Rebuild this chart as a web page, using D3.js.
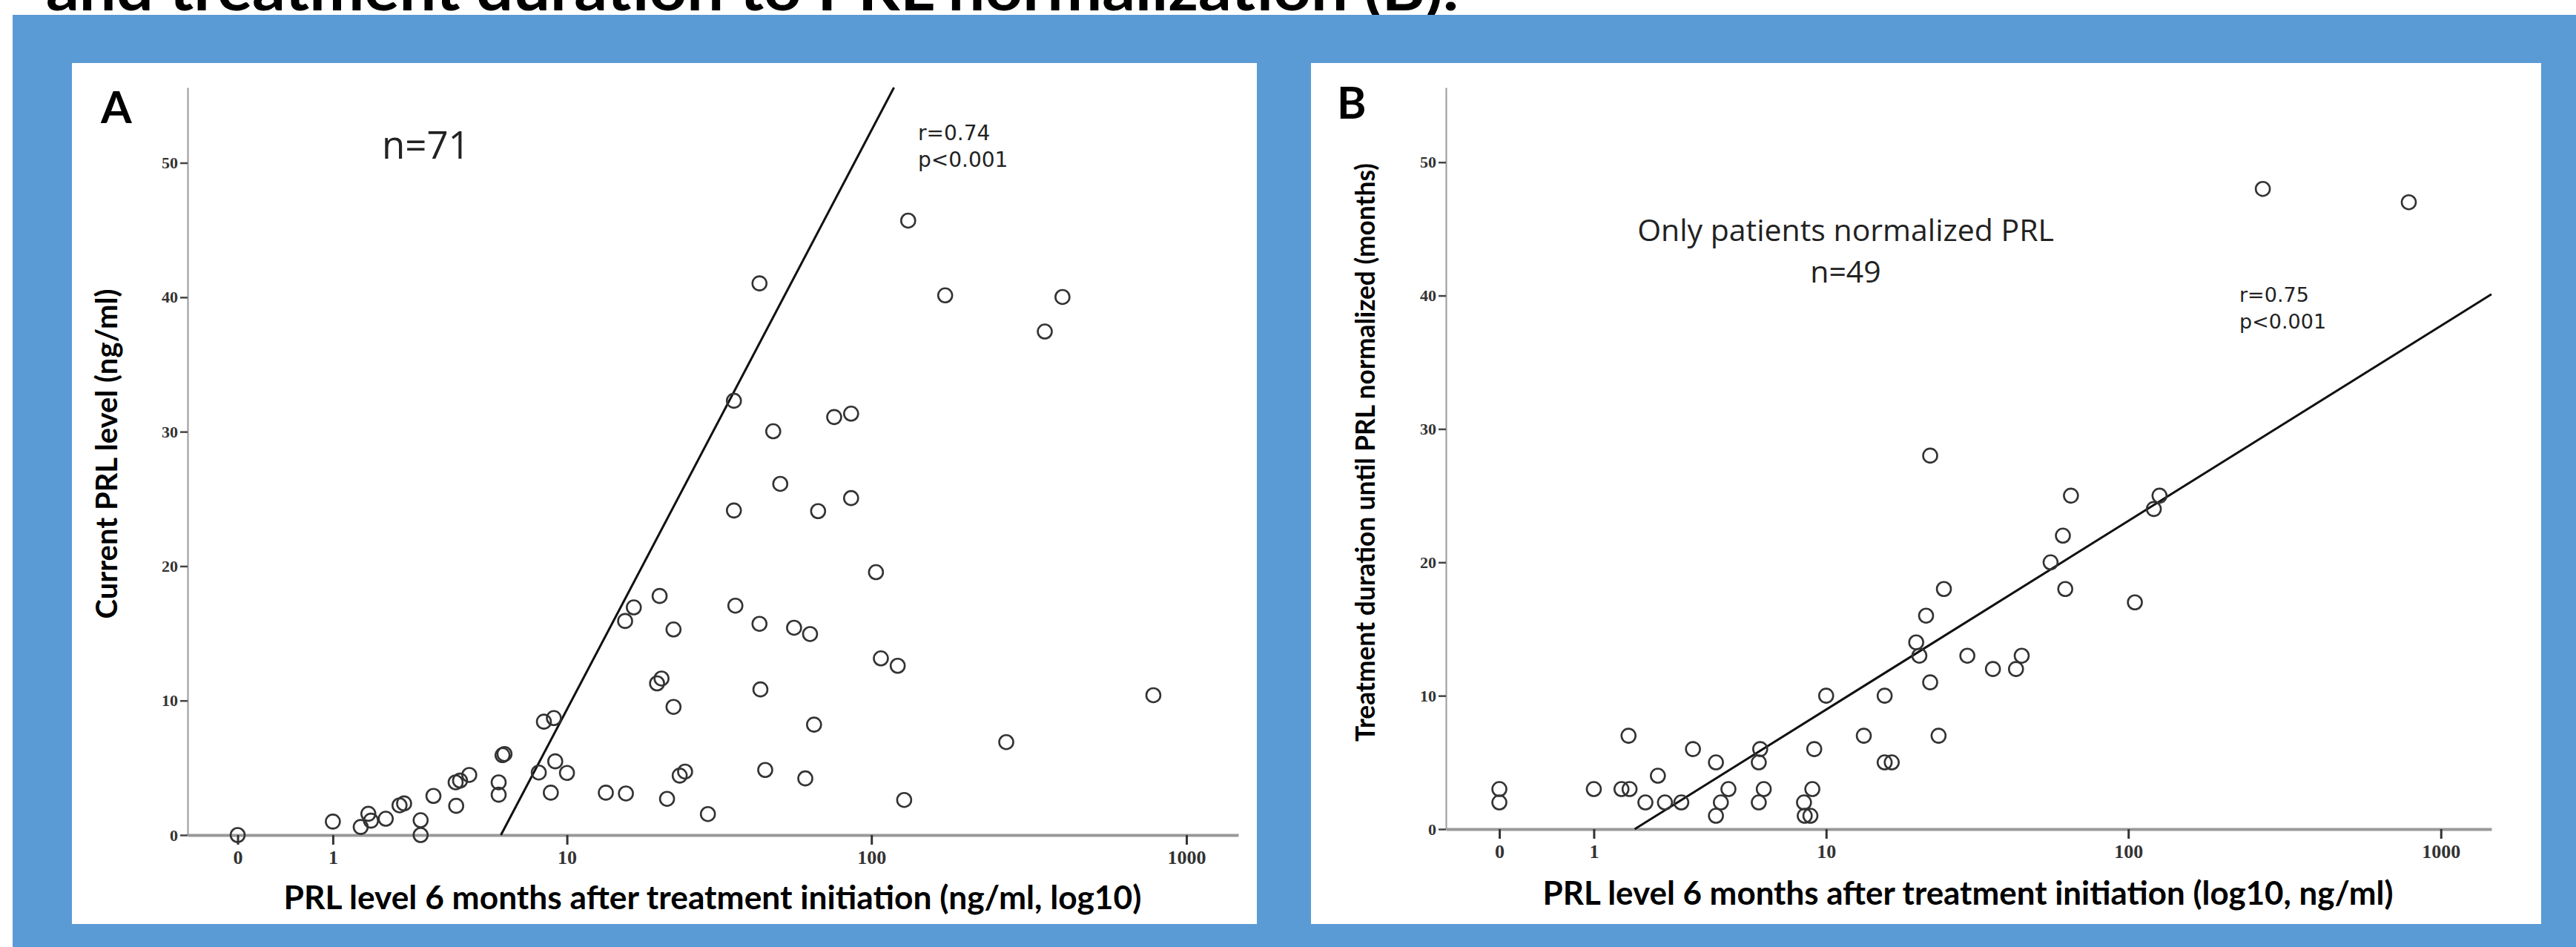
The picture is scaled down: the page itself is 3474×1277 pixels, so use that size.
<!DOCTYPE html>
<html>
<head>
<meta charset="utf-8">
<script src="https://cdn.jsdelivr.net/npm/d3@7"></script>
<style>
  body { margin: 0; background: #fff; }
  svg { display: block; }
</style>
</head>
<body>
<svg id="chart"></svg>
<script>
// ---- data ----
// panel A: PRL 6 months after start (ng/ml) vs current PRL (ng/ml)
const prl6A = [0, 1, 1.45, 1.59, 1.64, 1.94, 2.25, 2.36, 2.79, 2.79, 3.16, 3.91, 3.89, 4.05, 4.4,
  5.69, 5.69, 5.88, 5.98, 7.96, 8.3, 9.0, 9.1, 8.78, 10, 13.6, 15.9, 20.2, 20.9, 22.9, 21.8,
  15.8, 16.9, 20.6, 22.9, 24.0, 25.0, 29.7, 36.1, 36.1, 36.5, 43.7, 43.7, 44, 45.6, 48.4, 51,
  56.5, 61.4, 63.6, 65.5, 67.5, 76, 86.1, 86.1, 103.4, 107.2, 121.3, 127.2, 131, 171.8, 268.6,
  356, 405, 786];
const currentA = [0, 1.0, 0.6, 1.58, 1.07, 1.21, 2.21, 2.35, 1.1, 0, 2.91, 2.17, 3.92, 4.05, 4.47,
  3.92, 3.0, 5.94, 6.03, 4.65, 8.43, 8.7, 5.48, 3.15, 4.62, 3.15, 3.09, 11.28, 11.64, 9.53, 2.69,
  15.92, 16.93, 17.78, 15.29, 4.42, 4.72, 1.56, 32.3, 24.14, 17.06, 41.03, 15.71, 10.83, 4.84,
  30.03, 26.12, 15.42, 4.21, 14.95, 8.21, 24.09, 31.09, 31.34, 25.06, 19.55, 13.14, 12.59, 2.61,
  45.7, 40.14, 6.91, 37.45, 40.02, 10.4];
const fitA = [{ x: 5.8, y: 0 }, { x: 118, y: 55.6 }];

// panel B: PRL 6 months after start vs months until PRL normalized
const prl6B = [0, 0, 1, 1.58, 1.45, 1.6, 1.92, 2.2, 2.37, 2.8, 3.14, 3.9, 4.08, 4.37, 3.9,
  5.78, 5.71, 5.96, 5.71, 8.35, 8.4, 8.8, 8.94, 9.08, 10, 13.5, 15.9, 16.8, 15.9, 20.3, 20.8,
  22.6, 24.1, 270, 790, 22.6, 65.3, 126, 120.8, 61.5, 56.1, 62.6, 105, 25.1, 21.9, 30, 36.4,
  43.3, 45.2];
const monthsB = [3, 2, 3, 7, 3, 3, 2, 4, 2, 2, 6, 5, 2, 3, 1,
  6, 5, 3, 2, 2, 1, 1, 3, 6, 10, 7, 5, 5, 10, 14, 13,
  11, 7, 48, 47, 28, 25, 25, 24, 22, 20, 18, 17, 18, 16, 13, 12,
  12, 13];
const fitB = [{ x: 1.7, y: 0 }, { x: 1450, y: 40.1 }];

const xTicks = [0, 1, 10, 100, 1000];
const yTicks = [0, 10, 20, 30, 40, 50];

const W = 3474, H = 1277;
const svg = d3.select('#chart').attr('width', W).attr('height', H);

// heading of the slide, cut off by the top edge like in the source
svg.append('text')
  .attr('x', 62).attr('y', 14)
  .attr('textLength', 1905).attr('lengthAdjust', 'spacingAndGlyphs')
  .style('font', 'bold 80px Lato, sans-serif')
  .text('and treatment duration to PRL normalization (B).');

svg.append('rect').attr('x', 17).attr('y', 20).attr('width', W - 17).attr('height', H - 20)
  .attr('fill', '#5b9bd5');

// size a text so that its natural length matches the wanted one
function fitText(sel, len, weight) {
  const base = 40;
  sel.style('font', `${weight} ${base}px Lato, sans-serif`);
  const natural = sel.node().getComputedTextLength();
  sel.style('font', `${weight} ${(base * len / natural).toFixed(2)}px Lato, sans-serif`);
}

function drawPanel(p) {
  svg.append('rect').attr('x', p.box[0]).attr('y', p.box[1])
    .attr('width', p.box[2]).attr('height', p.box[3]).attr('fill', '#fff');

  const x = d3.scaleSymlog().constant(1).domain(p.xDomain).range([p.left, p.right]);
  const y = d3.scaleLinear().domain([0, 55.6]).range([p.bottom, p.top]);

  const g = svg.append('g');

  // y axis
  const ya = g.append('g')
    .attr('transform', `translate(${p.left},0)`)
    .call(d3.axisLeft(y).tickValues(yTicks).tickSize(10).tickSizeOuter(0).tickPadding(3));
  ya.select('.domain').attr('stroke', '#999').attr('stroke-width', 2);
  ya.selectAll('.tick line').attr('stroke', '#444').attr('stroke-width', 2.5);
  ya.selectAll('.tick text').attr('fill', '#333')
    .style('font', 'bold 22px "Liberation Serif", serif');

  // x axis
  const xa = g.append('g')
    .attr('transform', `translate(0,${p.bottom})`)
    .call(d3.axisBottom(x).tickValues(xTicks).tickFormat(d3.format('d'))
      .tickSize(13).tickSizeOuter(0).tickPadding(8));
  xa.select('.domain').attr('stroke', '#999').attr('stroke-width', 4);
  xa.selectAll('.tick line').attr('stroke', '#333').attr('stroke-width', 3);
  xa.selectAll('.tick text').attr('fill', '#333')
    .style('font', 'bold 26px "Liberation Serif", serif');

  // fit line
  g.append('line')
    .attr('x1', x(p.fit[0].x)).attr('y1', y(p.fit[0].y))
    .attr('x2', x(p.fit[1].x)).attr('y2', y(p.fit[1].y))
    .attr('stroke', '#111').attr('stroke-width', 3);

  // points
  g.append('g').selectAll('circle')
    .data(d3.zip(p.xs, p.ys))
    .join('circle')
    .attr('cx', d => x(d[0]))
    .attr('cy', d => y(d[1]))
    .attr('r', 9.5)
    .attr('fill', 'none')
    .attr('stroke', '#333')
    .attr('stroke-width', 2.6);

  // labels
  g.append('text').attr('x', p.letter[0]).attr('y', p.letter[1])
    .style('font', 'bold 60px Lato, sans-serif').text(p.letter[2]);

  const yt = g.append('text')
    .attr('transform', `translate(${p.yTitle[0]},${p.yTitle[1]}) rotate(-90)`)
    .attr('text-anchor', 'middle')
    .text(p.yLabel);
  fitText(yt, p.yTitle[2], 'bold');

  const xt = g.append('text')
    .attr('x', p.xTitle[0]).attr('y', p.xTitle[1])
    .attr('text-anchor', 'middle')
    .text(p.xLabel);
  fitText(xt, p.xTitle[2], 'bold');

  p.notes.forEach(n => {
    g.append('text').attr('x', n.x).attr('y', n.y)
      .attr('text-anchor', n.anchor || 'start')
      .attr('fill', '#222')
      .style('font', `${n.size}px ${n.family || '"Open Sans", sans-serif'}`)
      .text(n.t);
  });
}

const statFont = '"DejaVu Sans", sans-serif';

drawPanel({
  box: [97, 85, 1598, 1161],
  left: 253, right: 1670, top: 118, bottom: 1126,
  xDomain: [-0.44, 1460],
  xs: prl6A, ys: currentA, fit: fitA,
  letter: [136, 166, 'A'],
  yLabel: 'Current PRL level (ng/ml)', yTitle: [158, 612, 445],
  xLabel: 'PRL level 6 months after treatment initiation (ng/ml, log10)', xTitle: [961, 1226, 1157],
  notes: [
    { x: 515, y: 214, size: 51, t: 'n=71' },
    { x: 1238, y: 189, size: 28, t: 'r=0.74', family: statFont },
    { x: 1238, y: 225, size: 28, t: 'p<0.001', family: statFont }
  ]
});

drawPanel({
  box: [1768, 85, 1659, 1161],
  left: 1950, right: 3360, top: 118, bottom: 1118,
  xDomain: [-0.48, 1450],
  xs: prl6B, ys: monthsB, fit: fitB,
  letter: [1803, 160, 'B'],
  yLabel: 'Treatment duration until PRL normalized (months)', yTitle: [1854, 610, 780],
  xLabel: 'PRL level 6 months after treatment initiation (log10, ng/ml)', xTitle: [2654, 1220, 1147],
  notes: [
    { x: 2489, y: 325, size: 41, t: 'Only patients normalized PRL', anchor: 'middle' },
    { x: 2489, y: 381, size: 41, t: 'n=49', anchor: 'middle' },
    { x: 3020, y: 407, size: 27, t: 'r=0.75', family: statFont },
    { x: 3020, y: 443, size: 27, t: 'p<0.001', family: statFont }
  ]
});
</script>
</body>
</html>
